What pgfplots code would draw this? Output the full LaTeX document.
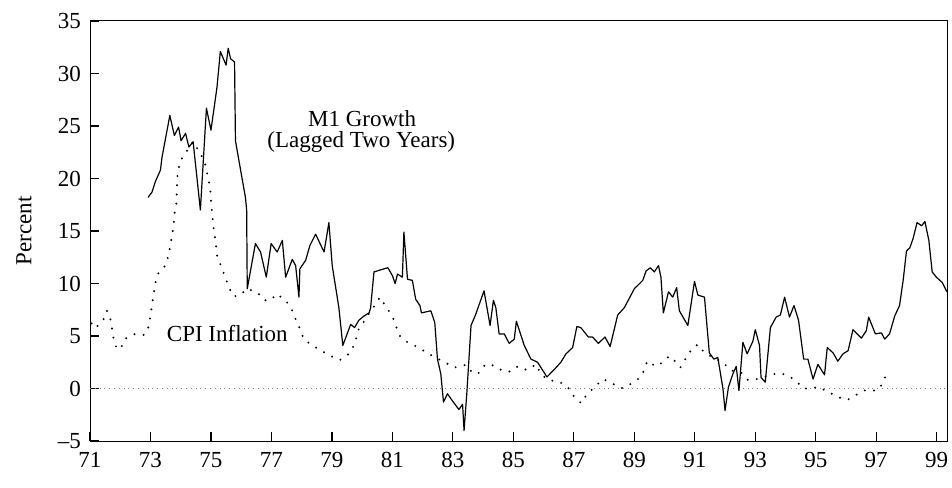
\documentclass[border=0pt]{standalone}
\usepackage{fontspec}
\setmainfont{Liberation Serif}
\usepackage{pgfplots}
\pgfplotsset{compat=1.18}

\begin{document}
\begin{tikzpicture}
  \useasboundingbox (-45pt,-23pt) rectangle (431pt,220.5pt);
  \begin{axis}[
      scale only axis,
      width=428.5pt,
      height=210pt,
      xmin=71, xmax=99.34,
      ymin=-5, ymax=35,
      xtick={71,73,...,99},
      xticklabels={71,73,75,77,79,81,83,85,87,89,91,93,95,97,99},
      ytick={-5,0,...,35},
      yticklabels={--5,0,5,10,15,20,25,30,35},
      tick align=inside,
      xtick pos=lower,
      ytick pos=left,
      major tick length=4.5pt,
      tick style={black, line width=0.6pt},
      axis line style={line width=0.5pt},
      tick label style={font=\fontsize{11.5}{13}\selectfont},
      xticklabel style={yshift=-2pt},
      yticklabel style={xshift=-1pt},
      extra y ticks={0},
      extra y tick labels={},
      extra y tick style={grid=major, major grid style={gray, dotted, thin}, major tick length=0pt},
      clip=false,
  ]

  % --- M1 growth, lagged two years ---
  \addplot[black, line width=0.6pt, line join=round] coordinates {
  (72.92,18.2) (73.05,18.7) (73.16,19.7) (73.33,20.8) (73.38,22.0) (73.64,26.0)
  (73.79,24.1) (73.93,24.9) (74.01,23.6) (74.16,24.3) (74.27,23.0) (74.41,23.5)
  (74.65,17.0) (74.85,26.7) (75.00,24.6) (75.20,28.7) (75.31,32.1) (75.50,30.8)
  (75.57,32.4) (75.65,31.4) (75.78,31.1) (75.81,23.6) (75.98,20.8) (76.14,18.2)
  (76.18,17.0) (76.20,9.5) (76.47,13.8) (76.64,13.0) (76.83,10.6) (76.99,13.8)
  (77.19,13.0) (77.36,14.1) (77.47,10.6) (77.69,12.3) (77.80,11.7) (77.91,8.7)
  (77.94,11.4) (78.13,12.2) (78.27,13.6) (78.46,14.7) (78.74,13.0) (78.90,15.8)
  (79.01,11.7) (79.23,7.7) (79.36,4.1) (79.62,6.1) (79.75,5.8) (79.89,6.5)
  (80.06,6.9) (80.23,7.2) (80.28,7.7) (80.39,11.1) (80.61,11.3) (80.85,11.5)
  (81.00,10.75) (81.09,10.0) (81.17,10.9) (81.33,10.6) (81.38,14.9) (81.50,10.4)
  (81.66,10.3) (81.77,8.5) (81.91,7.9) (81.96,7.2) (82.27,7.4) (82.40,6.3)
  (82.49,2.8) (82.60,1.4) (82.69,-1.3) (82.82,-0.5) (82.99,-1.2) (83.20,-2.0)
  (83.32,-1.5) (83.37,-4.0) (83.46,-0.5) (83.60,6.0) (83.76,7.1) (83.87,8.0)
  (84.03,9.3) (84.23,6.0) (84.34,8.4) (84.42,7.7) (84.53,5.2) (84.70,5.2)
  (84.86,4.3) (85.03,4.7) (85.10,6.4) (85.36,4.1) (85.58,2.8) (85.80,2.5)
  (86.11,1.1) (86.35,1.8) (86.57,2.5) (86.74,3.3) (86.96,3.9) (87.10,5.9)
  (87.23,5.8) (87.48,4.9) (87.62,4.9) (87.81,4.3) (88.03,4.9) (88.20,4.0)
  (88.45,7.0) (88.67,7.7) (89.00,9.5) (89.28,10.3) (89.39,11.2) (89.53,11.5)
  (89.66,11.1) (89.80,11.7) (89.88,10.6) (89.96,7.2) (90.13,9.2) (90.27,8.7)
  (90.40,9.6) (90.49,7.4) (90.77,6.0) (90.99,10.2) (91.10,8.9) (91.32,8.7)
  (91.48,3.4) (91.63,2.8) (91.76,2.95) (91.93,0.0) (92.00,-2.1) (92.11,0.1)
  (92.26,1.4) (92.37,2.1) (92.46,-0.2) (92.59,4.4) (92.73,3.3) (92.92,4.5)
  (93.00,5.6) (93.14,4.1) (93.19,1.05) (93.33,0.6) (93.50,5.8) (93.69,6.8)
  (93.83,7.0) (93.97,8.7) (94.13,6.8) (94.28,7.9) (94.43,6.5) (94.60,2.8)
  (94.74,2.8) (94.91,0.9) (95.07,2.3) (95.29,1.3) (95.38,3.9) (95.57,3.4)
  (95.73,2.6) (95.90,3.3) (96.07,3.6) (96.23,5.6) (96.51,4.8) (96.67,5.5)
  (96.75,6.8) (96.97,5.2) (97.17,5.3) (97.28,4.7) (97.44,5.2) (97.61,6.9)
  (97.77,7.9) (97.89,10.3) (98.00,13.1) (98.11,13.4) (98.22,14.3) (98.35,15.8)
  (98.50,15.5) (98.61,15.9) (98.74,14.1) (98.85,11.1) (98.99,10.6) (99.18,10.1)
  (99.34,9.2)
  };

  % --- CPI inflation (dotted) ---
  \addplot[black, line width=1.1pt, line cap=round, dash pattern=on 0pt off 4.6pt] coordinates {
  (71.05,6.2) (71.17,5.75) (71.43,6.45) (71.56,7.4) (71.67,6.7) (71.73,5.65)
  (71.78,4.7) (71.89,3.75) (72.02,3.85) (72.17,4.75) (72.50,5.2) (72.80,5.1)
  (72.94,5.9) (73.00,6.9) (73.05,7.9) (73.10,8.9) (73.16,10.0) (73.24,10.9)
  (73.49,11.7) (73.60,12.7) (73.72,14.7) (73.77,15.7) (73.79,16.6) (73.86,17.7)
  (73.88,19.7) (73.90,20.6) (73.99,21.7) (74.20,22.6) (74.41,23.5) (74.60,22.6)
  (74.78,21.7) (74.85,20.8) (74.93,19.7) (74.98,18.9) (75.00,17.9) (75.04,16.6)
  (75.09,15.2) (75.15,14.1) (75.20,12.7) (75.45,10.75) (75.59,9.7) (75.73,8.8)
  (75.92,8.8) (76.20,9.5) (76.55,9.1) (76.77,8.4) (76.97,8.4) (77.17,9.0)
  (77.47,8.4) (77.66,7.6) (77.80,6.6) (77.94,5.7) (78.07,4.7) (78.35,4.1)
  (78.65,3.6) (78.96,3.1) (79.26,2.7) (79.56,3.3) (79.75,4.2) (79.89,5.7)
  (80.00,6.1) (80.17,6.9) (80.39,7.8) (80.59,8.7) (80.78,7.8) (81.00,6.9)
  (81.11,6.0) (81.25,5.0) (81.50,4.4) (81.80,4.0) (82.14,3.4) (82.43,2.95)
  (82.73,2.5) (83.04,2.0) (83.24,2.1) (83.43,2.25) (83.68,1.4) (83.88,1.5)
  (84.07,2.3) (84.34,2.2) (84.64,1.7) (84.92,1.6) (85.14,2.1) (85.45,1.75)
  (85.75,2.3) (85.91,1.4) (86.15,0.8) (86.50,0.66) (86.79,0.18) (86.99,-0.7)
  (87.24,-1.4) (87.43,-0.55) (87.70,0.18) (87.97,0.9) (88.28,0.47) (88.58,0.03)
  (88.91,0.47) (89.19,1.04) (89.36,1.9) (89.42,2.6) (89.72,2.1) (89.94,2.5)
  (90.16,3.1) (90.38,2.5) (90.52,2.0) (90.71,2.9) (90.90,3.75) (91.10,4.2)
  (91.32,3.4) (91.60,2.95) (91.93,2.5) (92.18,1.75) (92.54,1.5) (92.76,0.8)
  (93.06,0.9) (93.40,1.2) (93.75,1.46) (94.06,1.3) (94.35,0.7) (94.60,0.0)
  (94.85,0.0) (95.07,0.15) (95.40,-0.3) (95.71,-0.8) (96.04,-1.1) (96.34,-0.6)
  (96.64,-0.16) (97.00,-0.2) (97.20,0.4) (97.34,1.4)
  };

  \node[font=\fontsize{11.5}{13}\selectfont] at (axis cs:80.0,25.7) {M1 Growth};
  \node[font=\fontsize{11.5}{13}\selectfont] at (axis cs:79.97,23.45) {(Lagged Two Years)};
  \node[font=\fontsize{11.5}{13}\selectfont] at (axis cs:75.54,5.2) {CPI Inflation};
  \node[font=\fontsize{11.5}{13}\selectfont, rotate=90] at (axis description cs:-0.077,0.50) {Percent};

  \end{axis}
\end{tikzpicture}
\end{document}
